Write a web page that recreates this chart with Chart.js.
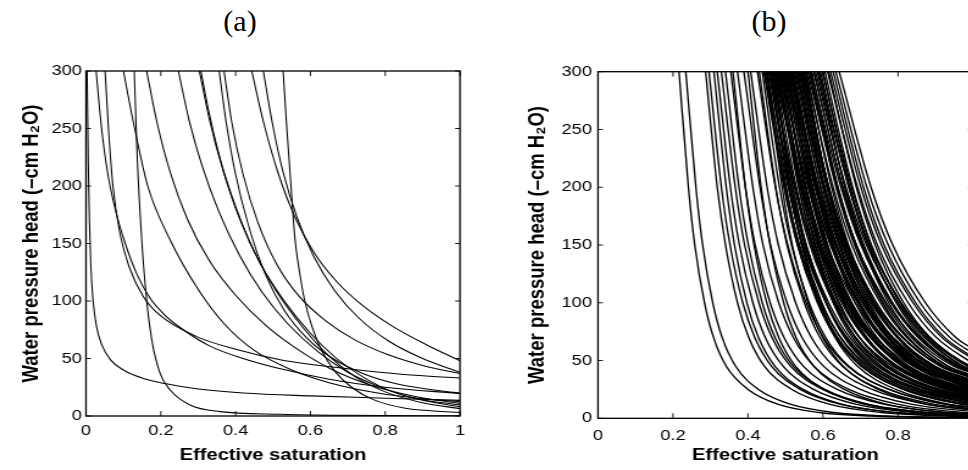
<!DOCTYPE html>
<html><head><meta charset="utf-8">
<script src="https://cdn.jsdelivr.net/npm/chart.js@4.4.1/dist/chart.umd.min.js"></script>
<style>
html,body{margin:0;padding:0;background:#fff;width:968px;height:470px;overflow:hidden;position:relative;}
.wrap{position:absolute;top:0;transform-origin:0 0;}
.ptitle{position:absolute;top:6px;font-family:"Liberation Serif","Times New Roman",serif;font-size:30px;line-height:30px;color:#000;width:100px;text-align:center;}
</style></head><body>
<div class="ptitle" style="left:190px">(a)</div>
<div class="ptitle" style="left:719px">(b)</div>
<div class="wrap" style="left:0px;transform:scaleX(1.22)"><canvas id="ca" width="397" height="470"></canvas></div>
<div class="wrap" style="left:484px;transform:scaleX(1.22)"><canvas id="cb" width="430" height="470"></canvas></div>
<script>
// ---- axes ----
const xTicks = [0, 0.2, 0.4, 0.6, 0.8, 1];
const yTicks = [0, 50, 100, 150, 200, 250, 300];
const xTitle = 'Effective saturation';
const yTitle = 'Water pressure head (\u2013cm H\u2082O)';

// ---- panel (a): [effective saturation, head] pairs per curve ----
const aCurveA = [[0.003,300],[0.006,220],[0.009,170],[0.013,130],[0.019,100],[0.028,78],[0.042,62],[0.065,49],[0.1,40],[0.15,33],[0.207,28.4],[0.3,23.5],[0.42,20],[0.6,17.5],[0.8,15.5],[1,13.6]];
const aCurveJ = [[0.027,300],[0.04,255],[0.056,215],[0.078,180],[0.105,150],[0.135,124],[0.17,103],[0.21,88],[0.26,75],[0.33,61],[0.42,50],[0.52,41],[0.65,32],[0.8,25],[1,19.5]];
const aCurveE = [[0.051,300],[0.06,250],[0.072,200],[0.09,160],[0.115,130],[0.153,104],[0.2,87],[0.296,69],[0.4,58],[0.519,49],[0.7,41],[0.85,36],[1,33]];
const aCurveK = [[0.1,300],[0.13,250],[0.165,200],[0.225,153],[0.3,110],[0.37,80],[0.45,57],[0.55,40],[0.65,29],[0.78,20],[0.9,15],[1,12.4]];
const aCurveD = [[0.129,300],[0.137,225],[0.149,153],[0.162,101],[0.176,66],[0.198,37],[0.225,22.6],[0.278,9.6],[0.358,3.8],[0.52,1.5],[0.7,0.6],[1,0.2]];
const aCurveL = [[0.162,300],[0.19,255],[0.225,212],[0.27,172],[0.33,135],[0.4,105],[0.48,79],[0.57,57],[0.66,40],[0.76,27],[0.88,17],[1,11]];
const aCurveM = [[0.247,300],[0.275,258],[0.31,218],[0.355,178],[0.41,140],[0.47,108],[0.54,80],[0.62,56],[0.7,38],[0.78,26],[0.88,15.5],[1,9.5]];
const aCurveN = [[0.303,300],[0.33,258],[0.365,215],[0.41,172],[0.465,133],[0.53,100],[0.6,72],[0.67,50],[0.74,34],[0.82,21],[0.91,13],[1,8.1]];
const aCurveO = [[0.307,300],[0.33,262],[0.36,222],[0.4,182],[0.45,143],[0.51,108],[0.58,77],[0.65,52],[0.72,34],[0.8,21],[0.9,11.5],[1,6.4]];
const aCurveI = [[0.356,300],[0.375,255],[0.4,210],[0.435,165],[0.48,123],[0.53,92],[0.59,68],[0.66,50],[0.74,37],[0.83,28],[0.92,23],[1,20]];
const aCurveH = [[0.369,300],[0.39,255],[0.42,210],[0.46,168],[0.51,132],[0.57,104],[0.64,83],[0.72,66],[0.81,53],[0.9,44],[1,37]];
const aCurveF = [[0.443,300],[0.475,255],[0.515,210],[0.56,172],[0.61,142],[0.67,117],[0.74,96],[0.82,78],[0.91,62],[1,48]];
const aCurveG = [[0.474,300],[0.498,255],[0.527,212],[0.565,172],[0.61,138],[0.665,109],[0.73,85],[0.81,65],[0.9,50],[1,38]];
const aCurveR = [[0.527,300],[0.537,250],[0.548,200],[0.559,153],[0.571,125],[0.585,100],[0.605,77],[0.63,57],[0.665,39],[0.71,25],[0.77,14],[0.85,7],[0.93,4.3],[1,3]];
const aCurves = [aCurveA,aCurveJ,aCurveE,aCurveK,aCurveD,aCurveL,aCurveM,aCurveN,aCurveO,aCurveI,aCurveH,aCurveF,aCurveG,aCurveR];

// ---- panel (b): saturation read at these heads, then head where curve meets S = 1 ----
const bHeadLevels = [300, 200, 150, 100, 70, 45, 25, 12, 5, 2];
const bSaturations = [
 [.216,.241,.258,.284,.308,.342,.400,.481,.590,.726],
 [.234,.261,.279,.306,.331,.367,.428,.515,.630,.774],
 [.287,.318,.340,.372,.402,.444,.517,.619,.755,.925],
 [.296,.329,.352,.386,.418,.463,.539,.647,.791,.971],
 [.309,.342,.364,.397,.428,.472,.547,.652,.793,.969],
 [.318,.353,.377,.413,.446,.494,.575,.689,.841],
 [.329,.366,.391,.429,.464,.514,.599,.719,.879],
 [.340,.376,.401,.438,.472,.521,.605,.722,.879],
 [.354,.393,.419,.459,.496,.548,.638,.764,.932],
 [.372,.413,.440,.482,.521,.576,.669,.801,.977],
 [.389,.432,.460,.504,.544,.602,.700,.838],
 [.407,.451,.481,.527,.569,.629,.731,.875],
 [.425,.473,.506,.555,.601,.666,.776,.932],
 [.438,.484,.516,.563,.607,.669,.776,.926],
 [.445,.497,.532,.585,.634,.704,.823,.991],
 [.452,.502,.536,.587,.634,.702,.817,.979],
 [.458,.514,.551,.608,.661,.736,.863],
 [.465,.519,.555,.610,.661,.733,.857],
 [.470,.529,.569,.630,.686,.766,.902],
 [.478,.535,.574,.633,.687,.765,.897],
 [.484,.547,.589,.654,.714,.799,.943],
 [.492,.553,.594,.657,.715,.797,.938],
 [.497,.564,.609,.677,.740,.830,.983],
 [.505,.568,.610,.675,.735,.820,.964],
 [.510,.578,.625,.695,.760,.852],
 [.518,.583,.627,.693,.754,.842,.991],
 [.524,.594,.642,.714,.781,.876],
 [.532,.599,.644,.712,.775,.865],
 [.538,.610,.659,.733,.801,.899],
 [.545,.615,.663,.735,.802,.897],
 [.553,.627,.677,.753,.823,.923],
 [.563,.635,.684,.758,.826,.924],
 [.576,.652,.703,.781,.853,.955],
 [.585,.659,.709,.785,.855,.955],
 [.598,.676,.728,.808,.882,.987],
 [.612,.692,.745,.827,.902],
 [.620,.701,.756,.840,.917],
 [.634,.717,.774,.859,.938],
 [.643,.728,.786,.873,.954],
 [.448,.507,.547,.608,.664,.744,.880],
 [.462,.510,.543,.592,.638,.703,.813,.969],
 [.475,.540,.584,.650,.711,.799,.948],
 [.488,.542,.578,.633,.684,.756,.880],
 [.500,.572,.621,.695,.763,.861],
 [.514,.573,.613,.674,.730,.810,.946],
 [.528,.602,.652,.728,.798,.898],
 [.541,.604,.646,.711,.771,.856,.995],
 [.556,.623,.668,.736,.799,.889],
 [.568,.648,.701,.783,.858,.966],
 [.590,.658,.705,.775,.840,.932],
 [.605,.679,.729,.805,.875,.975],
 [.450,.491,.518,.560,.599,.654,.747,.879],
 [.470,.514,.544,.590,.632,.692,.794,.938],
 [.400,.435,.459,.495,.528,.576,.657,.771,.923],
 [.360,.393,.416,.450,.482,.527,.603,.711,.855],
 [.442,.496,.532,.587,.638,.710,.834],
 [.455,.514,.554,.615,.671,.751,.887],
 [.461,.526,.570,.636,.697,.785,.934],
 [.468,.520,.555,.608,.657,.727,.846],
 [.473,.543,.591,.663,.730,.825,.986],
 [.481,.540,.580,.641,.697,.777,.913],
 [.486,.560,.610,.686,.756,.856],
 [.494,.550,.587,.644,.697,.772,.899],
 [.499,.562,.604,.669,.729,.814,.958],
 [.503,.581,.633,.713,.787,.892],
 [.508,.565,.604,.663,.717,.795,.927],
 [.512,.584,.633,.707,.775,.873],
 [.516,.583,.628,.696,.759,.849],
 [.521,.582,.623,.686,.744,.826,.967],
 [.527,.605,.657,.737,.811,.916],
 [.535,.603,.650,.720,.785,.877],
 [.542,.616,.666,.742,.812,.912],
 [.549,.614,.658,.724,.785,.873],
 [.559,.637,.689,.769,.843,.948],
 [.570,.640,.688,.760,.827,.922],
 [.580,.661,.716,.800,.877,.987],
 [.593,.669,.720,.798,.870,.972],
 [.627,.708,.763,.847,.924],
 [.615,.689,.739,.815,.885,.985],
 [.430,.474,.504,.550,.592,.652,.754,.898],
 [.444,.500,.537,.594,.647,.722,.849],
 [.457,.509,.544,.597,.646,.716,.835],
 [.463,.524,.565,.628,.686,.768,.909],
 [.476,.544,.591,.661,.726,.818,.976],
 [.482,.536,.572,.627,.678,.750,.874],
 [.490,.555,.599,.665,.726,.814,.963],
 [.495,.554,.594,.655,.711,.791,.927],
 [.502,.572,.620,.692,.759,.854],
 [.507,.568,.609,.672,.730,.812,.953],
 [.513,.587,.637,.713,.783,.883],
 [.520,.588,.635,.705,.770,.862],
 [.530,.593,.635,.700,.760,.845,.989],
 [.537,.613,.664,.742,.814,.916],
 [.547,.615,.662,.732,.797,.889],
 [.552,.613,.654,.717,.775,.857],
 [.565,.639,.689,.765,.835,.935],
 [.575,.653,.705,.785,.859,.964],
 [.588,.669,.724,.808,.885,.995],
 [.600,.672,.721,.795,.863,.961],
 [.470,.544,.594,.670,.740,.840]
];
const bEndHeads = [0.3,0.4,1.3,1.7,1.7,2.5,3.2,3.2,4.0,4.7,5.8,7.4,9.7,9.4,11.7,11.3,15.1,14.3,18.4,17.8,21.4,20.9,24,22.7,26.3,24.4,29.6,27.4,32.8,32.2,35.9,35.8,39.9,39.7,43.5,47.3,51.1,56.2,60,16.9,11,21.8,16,28.3,21.3,33,24.5,30.5,41.3,36.4,42.1,7.2,9.7,3.8,2.6,
  12.6,17.3,20.9,13.1,24.2,19.1,28.1,17.7,22.3,32.9,19.9,29.7,25.5,22.8,35.6,29.4,34.6,28,39.2,35.3,43.6,41.8,52.7,43.2,8.3,
  14.1,12.2,19,23.6,15.6,22.7,20.1,26.9,21.9,31.2,27.5,24.3,35.3,31,25.3,37.4,41,44.5,40.3,26.2];

// ---- build datasets ----
function lineDs(points, lw) {
  return { data: points.map(p => ({x: p[0], y: p[1]})), borderColor: '#000', borderWidth: lw,
           pointRadius: 0, fill: false, cubicInterpolationMode: 'monotone' };
}
const aDatasets = aCurves.map(c => lineDs(c, 1.05));
const bDatasets = bSaturations.map((sats, i) => {
  const pts = sats.map((s, k) => [s, bHeadLevels[k]]);
  pts.push([1, bEndHeads[i]]);
  return lineDs(pts, 1.35);
});

const SX = 1.22;
const frameTicks = {
  id: 'frameTicks',
  afterDatasetsDraw(chart) {
    const {ctx, chartArea: a} = chart;
    const x = chart.scales.x, y = chart.scales.y;
    ctx.save();
    ctx.strokeStyle = '#000';
    ctx.lineWidth = 0.9;
    ctx.beginPath();
    const L = 5;
    xTicks.forEach(v => { const px = x.getPixelForValue(v);
      ctx.moveTo(px, a.bottom); ctx.lineTo(px, a.bottom - L);
      ctx.moveTo(px, a.top); ctx.lineTo(px, a.top + L); });
    yTicks.forEach(v => { const py = y.getPixelForValue(v);
      ctx.moveTo(a.left, py); ctx.lineTo(a.left + L / SX, py);
      ctx.moveTo(a.right, py); ctx.lineTo(a.right - L / SX, py); });
    ctx.stroke();
    ctx.lineWidth = 1.3;
    ctx.strokeRect(a.left, a.top, a.right - a.left, a.bottom - a.top);
    ctx.restore();
  }
};

const FONT = '"Liberation Sans", Arial, Helvetica, sans-serif';
function makeChart(id, datasets, g) {
  return new Chart(document.getElementById(id), {
    type: 'line',
    data: { datasets },
    options: {
      responsive: false, animation: false, events: [],
      layout: { padding: { left: 0, top: g.top, right: g.right, bottom: 0 } },
      plugins: { legend: { display: false }, tooltip: { enabled: false } },
      scales: {
        x: {
          type: 'linear', min: 0, max: 1,
          afterFit: s => { s.height = g.xh; },
          grid: { display: false, drawTicks: false }, border: { display: false },
          ticks: { stepSize: 0.2, padding: g.xpad, color: '#000', autoSkip: false, maxRotation: 0,
                   callback: v => String(Math.round(v * 10) / 10),
                   font: { family: FONT, size: 15 } },
          title: { display: true, text: xTitle, color: '#000',
                   font: { family: FONT, size: 16.5, weight: 'bold' }, padding: { top: 0, bottom: g.xtpad } }
        },
        y: {
          type: 'linear', min: 0, max: 300,
          afterFit: s => { s.width = g.yw; },
          grid: { display: false, drawTicks: false }, border: { display: false },
          ticks: { stepSize: 50, padding: g.ypad, color: '#000', autoSkip: false,
                   font: { family: FONT, size: 15 } },
          title: { display: true, text: yTitle, color: '#000',
                   font: { family: FONT, size: 18.5, weight: 'bold' }, padding: { top: g.ytpad, bottom: 0 } }
        }
      }
    },
    plugins: [frameTicks]
  });
}

makeChart('ca', aDatasets, { top: 71, right: 397 - 460 / SX, xh: 470 - 416, yw: 86 / SX,
  xpad: 6.2, xtpad: 4.6, ypad: 3.3, ytpad: 32 / SX - 11.1 });
makeChart('cb', bDatasets, { top: 71.7, right: 430 - (973 - 484) / SX, xh: 470 - 418.3, yw: (598 - 484) / SX,
  xpad: 8.9, xtpad: 4.6, ypad: 4.9, ytpad: (537 - 484) / SX - 11.1 });
</script>
</body></html>
